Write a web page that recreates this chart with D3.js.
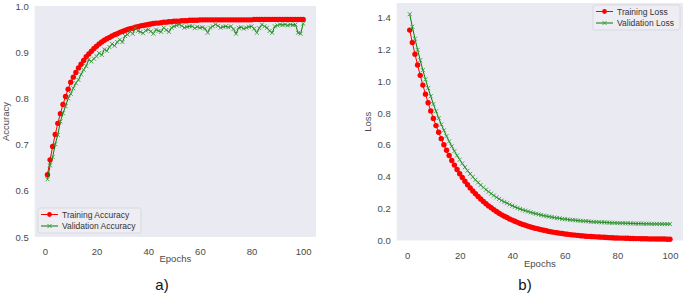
<!DOCTYPE html>
<html>
<head>
<meta charset="utf-8">
<script src="https://cdn.jsdelivr.net/npm/d3@7"></script>
<style>
  body { margin: 0; background: #fff; }
  #chart { width: 685px; height: 295px; }
  text { font-family: "Liberation Sans", Arial, sans-serif; }
</style>
</head>
<body>
<div id="chart"></div>
<script>

/*
DATA
*/
const epochs = d3.range(1, 101);

const trainAcc = [
  0.635, 0.667, 0.696, 0.722, 0.746, 0.767, 0.787, 0.804, 0.820, 0.835,
  0.846, 0.856, 0.866, 0.874, 0.882, 0.890, 0.896, 0.902, 0.908, 0.913,
  0.918, 0.922, 0.926, 0.929, 0.932, 0.935, 0.938, 0.940, 0.943, 0.945,
  0.947, 0.949, 0.951, 0.952, 0.954, 0.955, 0.957, 0.958, 0.959, 0.960,
  0.961, 0.962, 0.963, 0.963, 0.964, 0.965, 0.965, 0.966, 0.966, 0.967,
  0.967, 0.967, 0.968, 0.968, 0.968, 0.969, 0.969, 0.969, 0.969, 0.970,
  0.970, 0.970, 0.970, 0.970, 0.970, 0.970, 0.970, 0.970, 0.970, 0.970,
  0.970, 0.970, 0.970, 0.970, 0.970, 0.970, 0.970, 0.970, 0.970, 0.970,
  0.971, 0.971, 0.971, 0.971, 0.971, 0.971, 0.971, 0.971, 0.971, 0.971,
  0.971, 0.971, 0.971, 0.971, 0.971, 0.971, 0.971, 0.971, 0.971, 0.971
];

const valAcc = [
  0.625, 0.655, 0.673, 0.701, 0.721, 0.750, 0.768, 0.783, 0.800, 0.810,
  0.822, 0.833, 0.840, 0.852, 0.862, 0.870, 0.884, 0.880, 0.886, 0.891,
  0.898, 0.894, 0.906, 0.903, 0.911, 0.918, 0.914, 0.922, 0.927, 0.922,
  0.935, 0.938, 0.945, 0.940, 0.952, 0.946, 0.944, 0.941, 0.947, 0.949,
  0.945, 0.940, 0.949, 0.946, 0.944, 0.953, 0.948, 0.944, 0.953, 0.956,
  0.958, 0.960, 0.957, 0.953, 0.955, 0.956, 0.956, 0.952, 0.955, 0.953,
  0.954, 0.951, 0.942, 0.953, 0.956, 0.960, 0.957, 0.953, 0.955, 0.956,
  0.954, 0.956, 0.950, 0.940, 0.953, 0.954, 0.951, 0.953, 0.955, 0.956,
  0.951, 0.942, 0.952, 0.960, 0.956, 0.953, 0.946, 0.942, 0.956, 0.958,
  0.960, 0.959, 0.960, 0.958, 0.960, 0.959, 0.960, 0.942, 0.940, 0.962
];

const trainLoss = [
  1.320, 1.242, 1.169, 1.101, 1.036, 0.975, 0.918, 0.864, 0.813, 0.766,
  0.721, 0.679, 0.639, 0.601, 0.566, 0.533, 0.502, 0.473, 0.445, 0.419,
  0.395, 0.372, 0.350, 0.330, 0.311, 0.293, 0.276, 0.260, 0.245, 0.231,
  0.217, 0.205, 0.193, 0.182, 0.171, 0.161, 0.152, 0.144, 0.135, 0.128,
  0.121, 0.114, 0.107, 0.101, 0.096, 0.090, 0.085, 0.080, 0.076, 0.072,
  0.068, 0.064, 0.061, 0.057, 0.054, 0.051, 0.049, 0.046, 0.044, 0.041,
  0.039, 0.037, 0.035, 0.034, 0.032, 0.030, 0.029, 0.027, 0.026, 0.025,
  0.024, 0.023, 0.022, 0.021, 0.020, 0.019, 0.018, 0.017, 0.016, 0.016,
  0.015, 0.015, 0.014, 0.014, 0.013, 0.013, 0.012, 0.012, 0.011, 0.011,
  0.011, 0.010, 0.010, 0.010, 0.009, 0.009, 0.009, 0.009, 0.008, 0.008
];

const valLoss = [
  1.420, 1.341, 1.266, 1.196, 1.131, 1.069, 1.011, 0.956, 0.905, 0.856,
  0.811, 0.768, 0.728, 0.691, 0.655, 0.622, 0.591, 0.561, 0.533, 0.507,
  0.483, 0.460, 0.438, 0.418, 0.399, 0.381, 0.364, 0.348, 0.333, 0.319,
  0.306, 0.294, 0.282, 0.271, 0.261, 0.251, 0.242, 0.234, 0.226, 0.218,
  0.211, 0.204, 0.198, 0.192, 0.187, 0.182, 0.177, 0.172, 0.168, 0.164,
  0.160, 0.156, 0.153, 0.150, 0.147, 0.144, 0.141, 0.139, 0.136, 0.134,
  0.132, 0.130, 0.129, 0.127, 0.125, 0.124, 0.122, 0.121, 0.120, 0.118,
  0.117, 0.116, 0.115, 0.114, 0.114, 0.113, 0.112, 0.111, 0.111, 0.110,
  0.109, 0.109, 0.108, 0.108, 0.107, 0.107, 0.106, 0.106, 0.106, 0.105,
  0.105, 0.105, 0.104, 0.104, 0.104, 0.104, 0.103, 0.103, 0.103, 0.103
];

const xTicks = [0, 20, 40, 60, 80, 100];
const accTicks = [0.5, 0.6, 0.7, 0.8, 0.9, 1.0];
const lossTicks = [0.0, 0.2, 0.4, 0.6, 0.8, 1.0, 1.2, 1.4];

/*
SVG
*/
const width = 685, height = 295;
const svg = d3.select("#chart")
    .append("svg")
    .attr("width", width)
    .attr("height", height);

const RED = "#ff0000", GREEN = "#008000", XMARK = "#3a9a3a", BG = "#eaeaf2";
const FONT = "'Liberation Sans', Arial, sans-serif";

function drawPanel(cfg) {
    const xScale = d3.scaleLinear()
        .domain([-3.95, 104.95])
        .range([cfg.left, cfg.right]);

    const yScale = d3.scaleLinear()
        .domain(cfg.yDomain)
        .range([cfg.bottom, cfg.top]);

    const g = svg.append("g");

    // plot background
    g.append("rect")
        .attr("x", cfg.left)
        .attr("y", cfg.top)
        .attr("width", cfg.right - cfg.left)
        .attr("height", cfg.bottom - cfg.top)
        .attr("fill", BG);

    // axes, no tick marks (seaborn dark)
    const xAxis = g.append("g")
        .attr("transform", `translate(0,${cfg.bottom})`)
        .call(d3.axisBottom(xScale).tickValues(xTicks).tickSize(0).tickPadding(cfg.xPad));
    const yAxis = g.append("g")
        .attr("transform", `translate(${cfg.left},0)`)
        .call(d3.axisLeft(yScale).tickValues(cfg.yTicks).tickSize(0).tickPadding(6)
            .tickFormat(d3.format(".1f")));
    [xAxis, yAxis].forEach(function(a) {
        a.select(".domain").remove();
        a.selectAll("text")
            .attr("fill", "#4a4a4a")
            .style("font-size", "9.5px")
            .style("font-family", FONT);
    });

    // axis labels
    g.append("text")
        .attr("x", (cfg.left + cfg.right) / 2)
        .attr("y", cfg.xLabelY)
        .attr("text-anchor", "middle")
        .attr("fill", "#4a4a4a")
        .style("font-size", "9.5px")
        .text("Epochs");

    g.append("text")
        .attr("transform", `translate(${cfg.yLabelX},${(cfg.top + cfg.bottom) / 2}) rotate(-90)`)
        .attr("text-anchor", "middle")
        .attr("fill", "#4a4a4a")
        .style("font-size", "9.5px")
        .text(cfg.yLabel);

    const line = d3.line()
        .x(function(d, i) { return xScale(epochs[i]); })
        .y(function(d) { return yScale(d); });

    // training series: red line + circles
    g.append("path")
        .datum(cfg.train)
        .attr("d", line)
        .attr("fill", "none")
        .attr("stroke", RED)
        .attr("stroke-width", 1);
    g.selectAll(".dot")
        .data(cfg.train)
        .enter()
        .append("circle")
        .attr("cx", function(d, i) { return xScale(epochs[i]); })
        .attr("cy", function(d) { return yScale(d); })
        .attr("r", 2.7)
        .attr("fill", RED);

    // validation series: green line + x markers
    g.append("path")
        .datum(cfg.val)
        .attr("d", line)
        .attr("fill", "none")
        .attr("stroke", GREEN)
        .attr("stroke-width", 1);
    const s = 2;
    g.selectAll(".xmark")
        .data(cfg.val)
        .enter()
        .append("path")
        .attr("d", function(d, i) {
            const cx = xScale(epochs[i]), cy = yScale(d);
            return `M${cx - s},${cy - s}L${cx + s},${cy + s}M${cx - s},${cy + s}L${cx + s},${cy - s}`;
        })
        .attr("stroke", XMARK)
        .attr("stroke-width", 0.9);

    // legend
    const lg = g.append("g").attr("transform", `translate(${cfg.legend.x},${cfg.legend.y})`);
    lg.append("rect")
        .attr("width", cfg.legend.w)
        .attr("height", 25)
        .attr("rx", 2)
        .attr("fill", "#ededf3")
        .attr("stroke", "#d4d4dc")
        .attr("stroke-width", 0.8);
    const items = [
        {name: cfg.names[0], color: RED, marker: "o"},
        {name: cfg.names[1], color: GREEN, marker: "x"}
    ];
    items.forEach(function(it, k) {
        const yy = 6.5 + k * 11.5;
        lg.append("line")
            .attr("x1", 3).attr("x2", 20)
            .attr("y1", yy).attr("y2", yy)
            .attr("stroke", it.color)
            .attr("stroke-width", 1);
        if (it.marker === "o") {
            lg.append("circle").attr("cx", 11.5).attr("cy", yy).attr("r", 2.4).attr("fill", RED);
        } else {
            lg.append("path")
                .attr("d", `M${11.5 - 2},${yy - 2}L${11.5 + 2},${yy + 2}M${11.5 - 2},${yy + 2}L${11.5 + 2},${yy - 2}`)
                .attr("stroke", XMARK)
                .attr("stroke-width", 0.9);
        }
        lg.append("text")
            .attr("x", 24)
            .attr("y", yy + 3)
            .attr("fill", "#333")
            .style("font-size", "8.5px")
            .text(it.name);
    });
}

/*
PANEL a) ACCURACY
*/
drawPanel({
    left: 34.7, right: 316, top: 6, bottom: 237,
    yDomain: [0.5, 1.0], yTicks: accTicks,
    train: trainAcc, val: valAcc,
    yLabel: "Accuracy", yLabelX: 9, xLabelY: 262, xPad: 11,
    names: ["Training Accuracy", "Validation Accuracy"],
    legend: {x: 38, y: 208, w: 103}
});

/*
PANEL b) LOSS
*/
drawPanel({
    left: 396.7, right: 683, top: 3, bottom: 240.5,
    yDomain: [0, 1.49], yTicks: lossTicks,
    train: trainLoss, val: valLoss,
    yLabel: "Loss", yLabelX: 371, xLabelY: 267, xPad: 12,
    names: ["Training Loss", "Validation Loss"],
    legend: {x: 593, y: 5, w: 87}
});

// panel captions
svg.append("text")
    .attr("x", 162).attr("y", 290)
    .attr("text-anchor", "middle")
    .style("font-family", FONT)
    .style("font-size", "15px")
    .attr("fill", "#111")
    .text("a)");

svg.append("text")
    .attr("x", 525).attr("y", 290)
    .attr("text-anchor", "middle")
    .style("font-family", FONT)
    .style("font-size", "15px")
    .attr("fill", "#111")
    .text("b)");

</script>
</body>
</html>
